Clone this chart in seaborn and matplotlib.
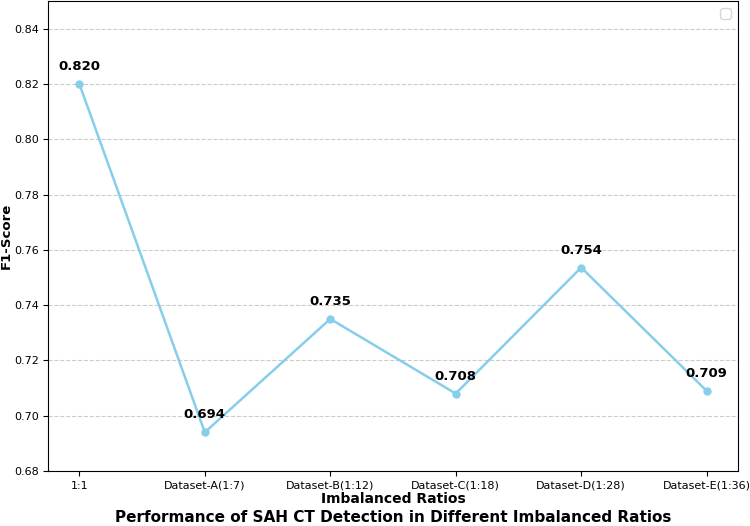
import matplotlib
matplotlib.use("Agg")
import matplotlib.pyplot as plt
import seaborn as sns
import pandas as pd

# Data
ratios = ["1:1", "Dataset-A(1:7)", "Dataset-B(1:12)", "Dataset-C(1:18)",
          "Dataset-D(1:28)", "Dataset-E(1:36)"]
f1_scores = [0.820, 0.694, 0.735, 0.708, 0.7536, 0.709]

df = pd.DataFrame({"ratio": ratios, "f1": f1_scores})

fig = plt.figure(figsize=(7.5, 5.26), dpi=100)
ax = fig.add_axes([48 / 750, 55 / 526, 690 / 750, 470 / 526])

sns.lineplot(x="ratio", y="f1", data=df, marker="o", color="skyblue",
             linewidth=1.8, markersize=6, markeredgewidth=0, ax=ax, sort=False)

# Value labels above each point
for i, v in enumerate(f1_scores):
    ax.annotate(f"{v:.3f}", (i, v), textcoords="offset points", xytext=(0, 10),
                ha="center", fontsize=9.5, fontweight="bold")

ax.set_ylim(0.68, 0.85)
ax.set_xlim(-0.25, 5.25)
ax.grid(axis="y", linestyle="--", color="#cccccc", linewidth=0.8)
ax.set_axisbelow(True)
ax.tick_params(labelsize=8)
ax.tick_params(axis="y", pad=3)
ax.set_xlabel("Imbalanced Ratios", fontsize=10, fontweight="bold", labelpad=1)
ax.set_ylabel("F1-Score", fontsize=9.5, fontweight="bold", labelpad=0)
ax.yaxis.set_label_coords(-0.051, 0.5)
ax.set_title("Performance of SAH CT Detection in Different Imbalanced Ratios",
             fontsize=11, fontweight="bold", y=-0.126)
ax.legend(loc="upper right")

fig.savefig("out.png", dpi=100)
